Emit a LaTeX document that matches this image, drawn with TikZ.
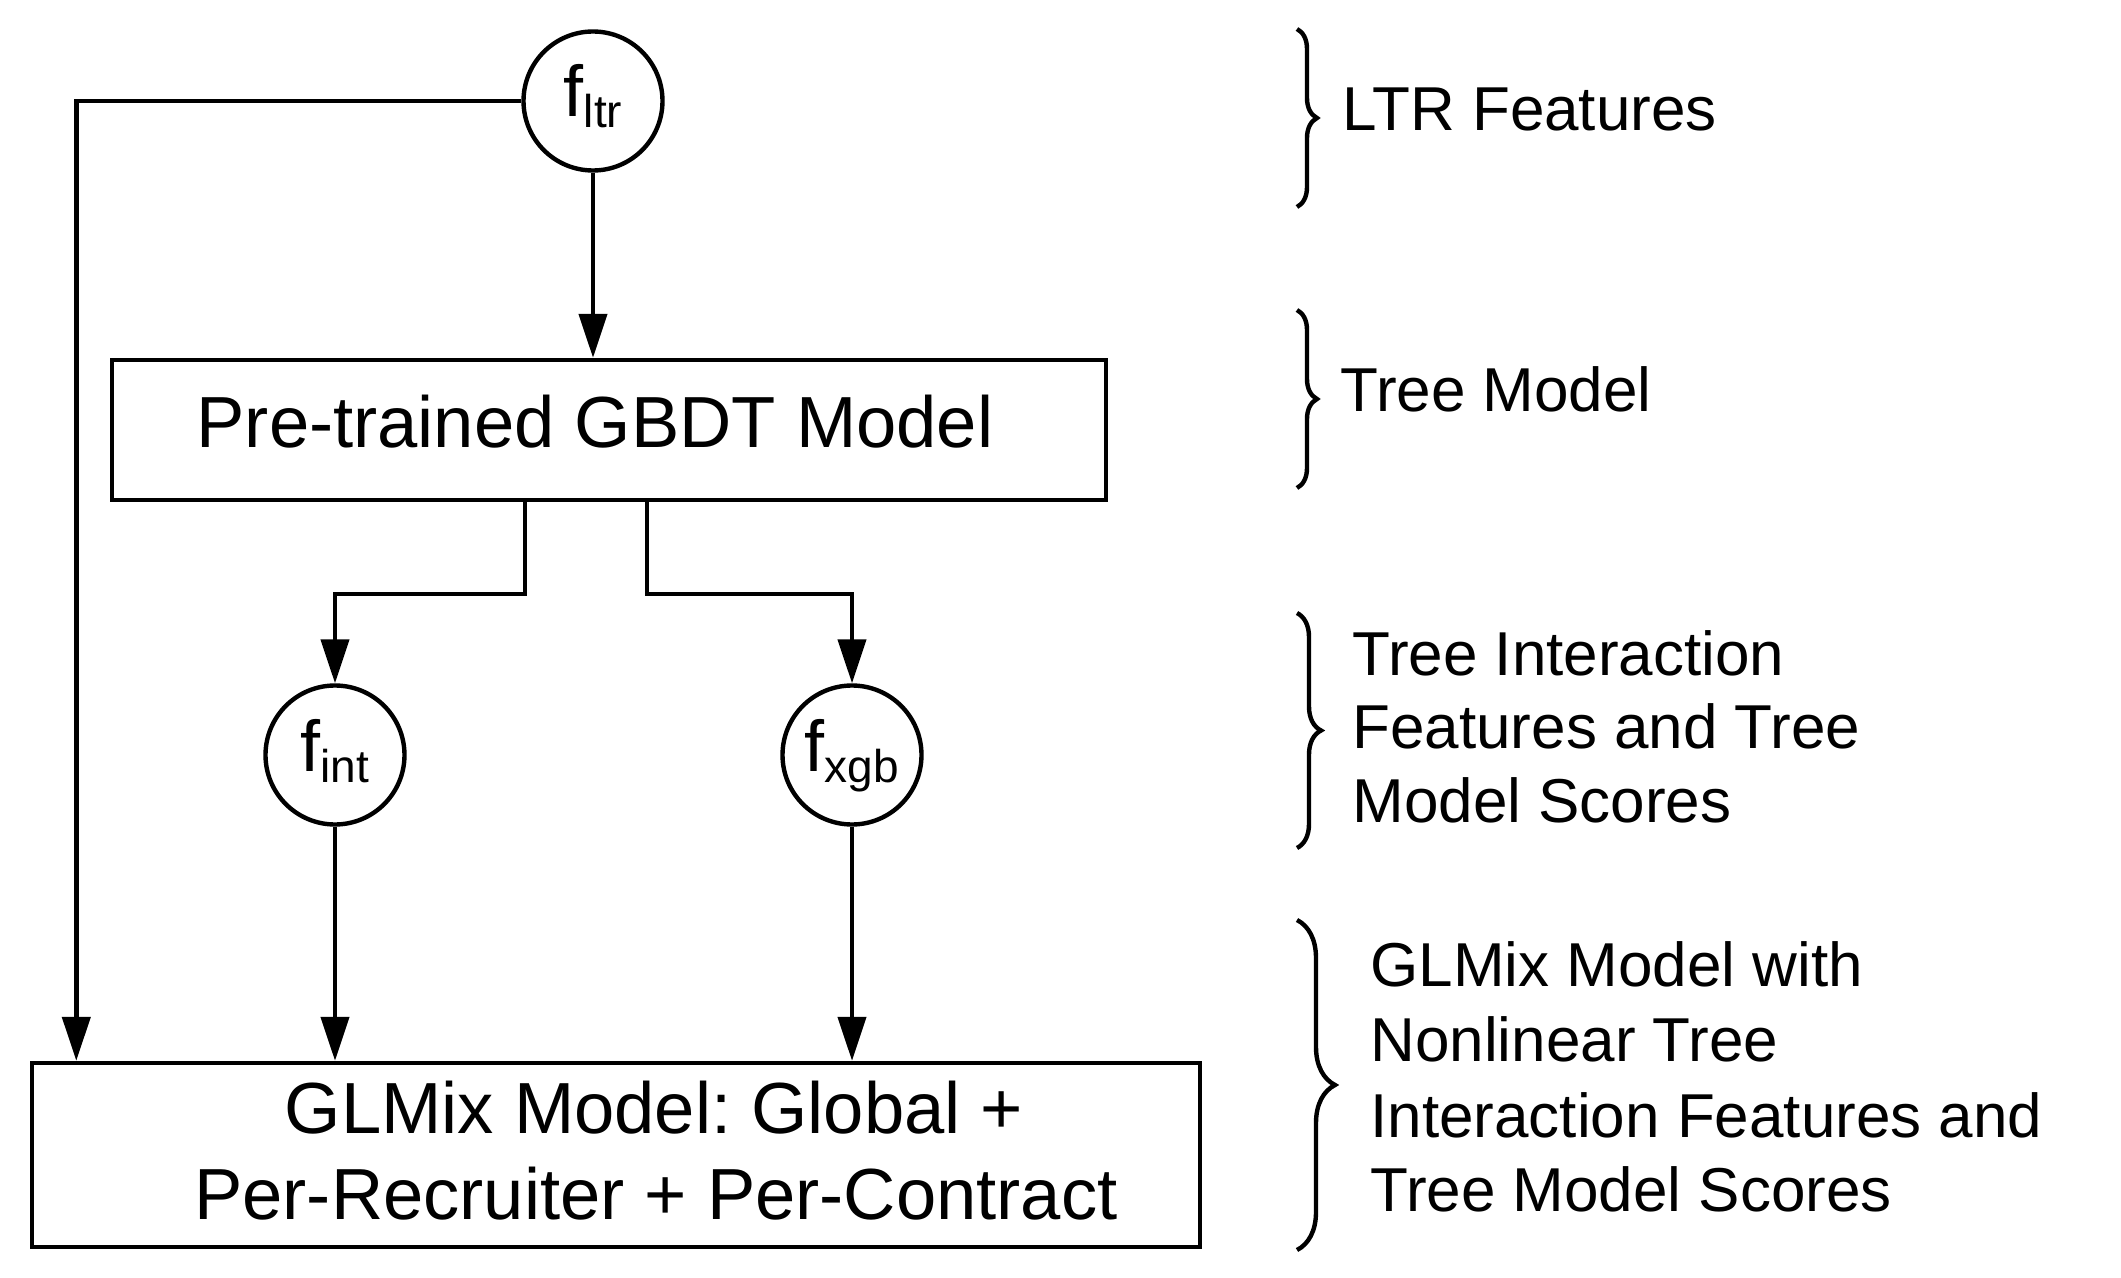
\documentclass[tikz,border=0pt]{standalone}
\usepackage{fontspec}
\setmainfont{Liberation Sans}
\usetikzlibrary{arrows.meta,decorations.pathreplacing,calc}
\frenchspacing
\begin{document}
\begin{tikzpicture}[x=0.5pt,y=-0.5pt,
  lw/.style={line width=2.2pt},
  arr/.style={lw,-{Triangle[width=14pt,length=22pt]}},
  box/.style={draw,lw,rectangle,inner sep=0pt},
  feat/.style={draw,lw,circle,minimum size=69.5pt,inner sep=0pt,text height=22pt,text depth=6pt,font=\fontsize{36}{36}\selectfont},
  big/.style={inner sep=0pt,font=\fontsize{36.2}{36}\selectfont},
  side/.style={inner sep=0pt,anchor=base west,font=\fontsize{31}{31}\selectfont},
  bracedeco/.style={lw,decorate,decoration={brace,amplitude=#1}},
]
\useasboundingbox (0,0) rectangle (2121,1278);

% nodes
\node[feat] (ltr) at (593,101) {f\raisebox{-5.5pt}{\fontsize{23}{23}\selectfont ltr}};
\node[box,minimum width=497pt,minimum height=70pt] (gbdt) at (609,430) {};
\node[big,anchor=base] (gbdttext) at (595,448) {Pre-trained GBDT Model};
\node[feat] (int) at (335,755) {f\raisebox{-5.5pt}{\fontsize{23}{23}\selectfont int}};
\node[feat] (xgb) at (852,755) {f\raisebox{-5.5pt}{\fontsize{23}{23}\selectfont xgb}};
\node[box,minimum width=584pt,minimum height=92pt] (glm) at (616,1155) {};
\node[big,anchor=base] (glmA) at (654,1133) {GLMix Model: Global +};
\node[big,anchor=base] (glmB) at (656,1219) {Per-Recruiter + Per-Contract};

% connectors
\draw[arr] (ltr.south) -- (ltr.south |- gbdt.north);
\draw[arr] (ltr.west) -| ([xshift=23.25pt]glm.north west);
\draw[arr] ([xshift=207.5pt]gbdt.south west) -- ++(0,92) -| (int.north);
\draw[arr] ([xshift=268.5pt]gbdt.south west) -- ++(0,92) -| (xgb.north);
\draw[arr] (int.south) -- (int.south |- glm.north);
\draw[arr] (xgb.south) -- (xgb.south |- glm.north);

% braces and side labels
\draw[bracedeco=10pt] (1297,29) -- (1297,207);
\draw[bracedeco=10pt] (1297,310) -- (1297,488);
\draw[bracedeco=12pt] (1297,613) -- (1297,848);
\draw[bracedeco=19pt] (1297,920) -- (1297,1250);

\node[side] (s1) at (1342,131) {LTR Features};
\node[side] (s2) at (1340,412) {Tree Model};
\node[side] (s3a) at (1352,675) {Tree Interaction};
\node[side] (s3b) at (1352,748) {Features and Tree};
\node[side] (s3c) at (1352,822) {Model Scores};
\node[side] (s4a) at (1370,986) {GLMix Model with};
\node[side] (s4b) at (1370,1061) {Nonlinear Tree};
\node[side] (s4c) at (1370,1137) {Interaction Features and};
\node[side] (s4d) at (1370,1211) {Tree Model Scores};
\end{tikzpicture}
\end{document}
